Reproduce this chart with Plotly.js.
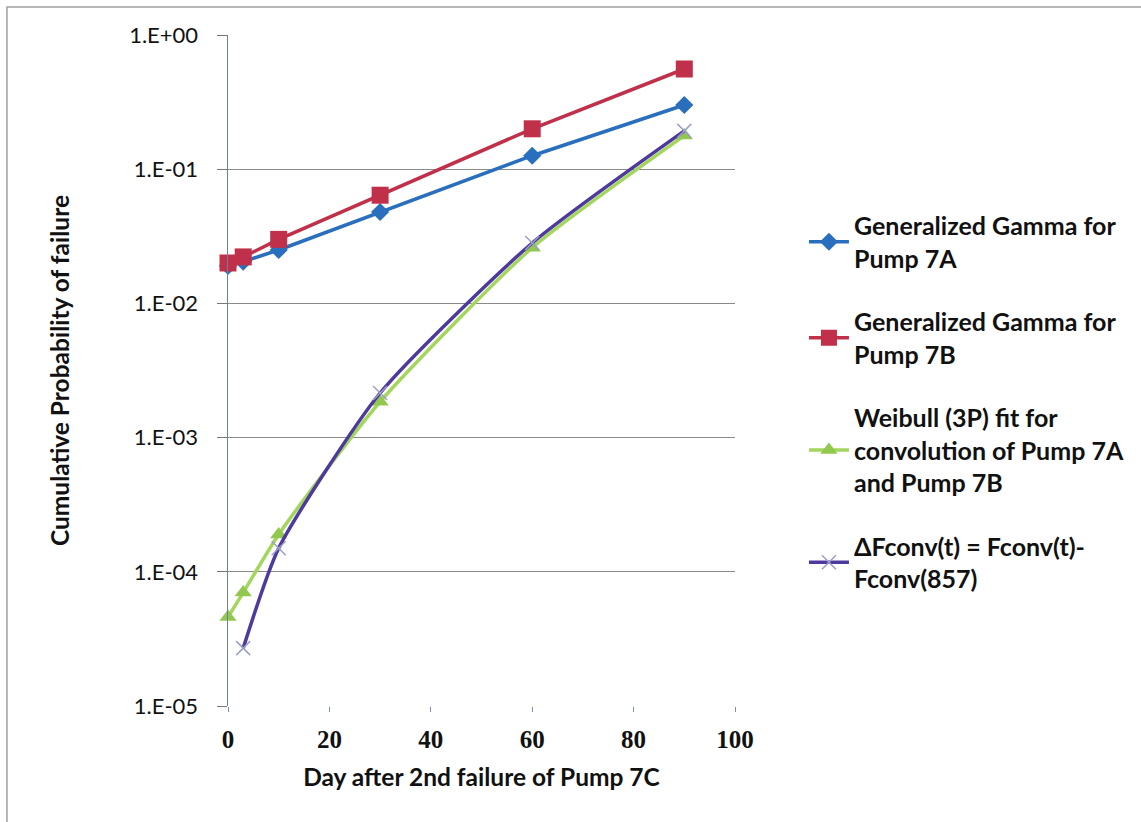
<!DOCTYPE html>
<html>
<head>
<meta charset="utf-8">
<script src="https://cdn.plot.ly/plotly-3.0.1.min.js"></script>
<style>
html,body{margin:0;padding:0;background:#fff;}
#chart{width:1141px;height:822px;}
</style>
</head>
<body>
<div id="chart"></div>
<script>
// Data
var days7A = [0, 3, 10, 30, 60, 90];
var gamma7A = [0.019, 0.0205, 0.0250, 0.048, 0.126, 0.301];

var days7B = [0, 3, 10, 30, 60, 90];
var gamma7B = [0.020, 0.0222, 0.030, 0.064, 0.200, 0.558];

var daysWeibull = [0, 3, 10, 30, 60, 90];
var weibullConv = [4.6e-5, 7.0e-5, 1.9e-4, 1.85e-3, 0.026, 0.178];

var daysDelta = [3, 10, 30, 60, 90];
var deltaFconv = [2.7e-5, 1.5e-4, 2.15e-3, 0.0282, 0.193];

var seriesNames = [
  "Generalized Gamma for<br>Pump 7A",
  "Generalized Gamma for<br>Pump 7B",
  "Weibull (3P) fit for<br>convolution of Pump 7A<br>and Pump 7B",
  "\u0394Fconv(t) = Fconv(t)-<br>Fconv(857)"
];

var yTickVals = [1e-5, 1e-4, 1e-3, 1e-2, 1e-1, 1];
var yTickText = ["1.E-05", "1.E-04", "1.E-03", "1.E-02", "1.E-01", "1.E+00"];
var xTickVals = [0, 20, 40, 60, 80, 100];

var traces = [
  {x: days7A, y: gamma7A, name: seriesNames[0], mode: "lines+markers", legendgroup: "a", cliponaxis: false,
   line: {color: "#2a6fbd", width: 3.5}, marker: {symbol: "diamond", size: 14, color: "#2a6fbd"}},
  {x: days7B, y: gamma7B, name: seriesNames[1], mode: "lines+markers", legendgroup: "b", cliponaxis: false,
   line: {color: "#c0304a", width: 3.5}, marker: {symbol: "square", size: 17, color: "#c0304a"}},
  {x: daysWeibull, y: weibullConv, name: seriesNames[2], mode: "lines+markers", legendgroup: "c", cliponaxis: false,
   line: {color: "#a3d65c", width: 3.5, shape: "spline", smoothing: 0.6}, marker: {symbol: "triangle-up", size: 15, color: "#93c850"}},
  {x: daysDelta, y: deltaFconv, name: seriesNames[3], mode: "lines+markers", legendgroup: "d", cliponaxis: false,
   line: {color: "#4e3a9c", width: 3.5, shape: "spline", smoothing: 0.6},
   marker: {symbol: "x-thin", size: 14, line: {color: "#9aa0c8", width: 1.5}, color: "#9aa0c8"}}
];

var sansFont = "Lato, 'Open Sans', sans-serif";

var layout = {
  width: 1141, height: 822,
  paper_bgcolor: "#ffffff", plot_bgcolor: "#ffffff",
  margin: {l: 228, r: 406, t: 35, b: 116},
  showlegend: true,
  legend: {
    x: 1.136, xanchor: "left", y: 0.75, yanchor: "top",
    font: {family: sansFont, size: 25, color: "#111", weight: "bold"},
    tracegroupgap: 28, itemwidth: 40, bgcolor: "rgba(0,0,0,0)"
  },
  xaxis: {
    range: [0, 100], tickvals: xTickVals, ticks: "outside", ticklen: 5, tickcolor: "#7f8fb0",
    ticklabelstandoff: 6,
    showgrid: false, zeroline: false, showline: false,
    tickfont: {family: "'Liberation Serif', serif", size: 25, color: "#111", weight: "bold"},
    title: {text: "Day after 2nd failure of Pump 7C", standoff: 16,
            font: {family: sansFont, size: 24.5, color: "#111", weight: "bold"}}
  },
  yaxis: {
    type: "log", range: [-5, 0], tickvals: yTickVals, ticktext: yTickText,
    ticks: "outside", ticklen: 10, tickcolor: "#777", ticklabelstandoff: 14,
    showgrid: true, gridcolor: "#8a8a8a", gridwidth: 1,
    showline: true, linecolor: "#6d7fa8", linewidth: 1.5, zeroline: false,
    tickfont: {family: sansFont, size: 22, color: "#111"},
    title: {text: "Cumulative Probability of failure", standoff: 52,
            font: {family: sansFont, size: 24.5, color: "#111", weight: "bold"}}
  },
  shapes: [
    {type: "rect", xref: "paper", yref: "paper", x0: -0.436, x1: 1.9, y0: -0.3, y1: 1.0417,
     line: {color: "#a0a0a0", width: 1.5}, fillcolor: "rgba(0,0,0,0)", layer: "below"}
  ]
};

Plotly.newPlot("chart", traces, layout, {displayModeBar: false, staticPlot: true});
</script>
</body>
</html>
